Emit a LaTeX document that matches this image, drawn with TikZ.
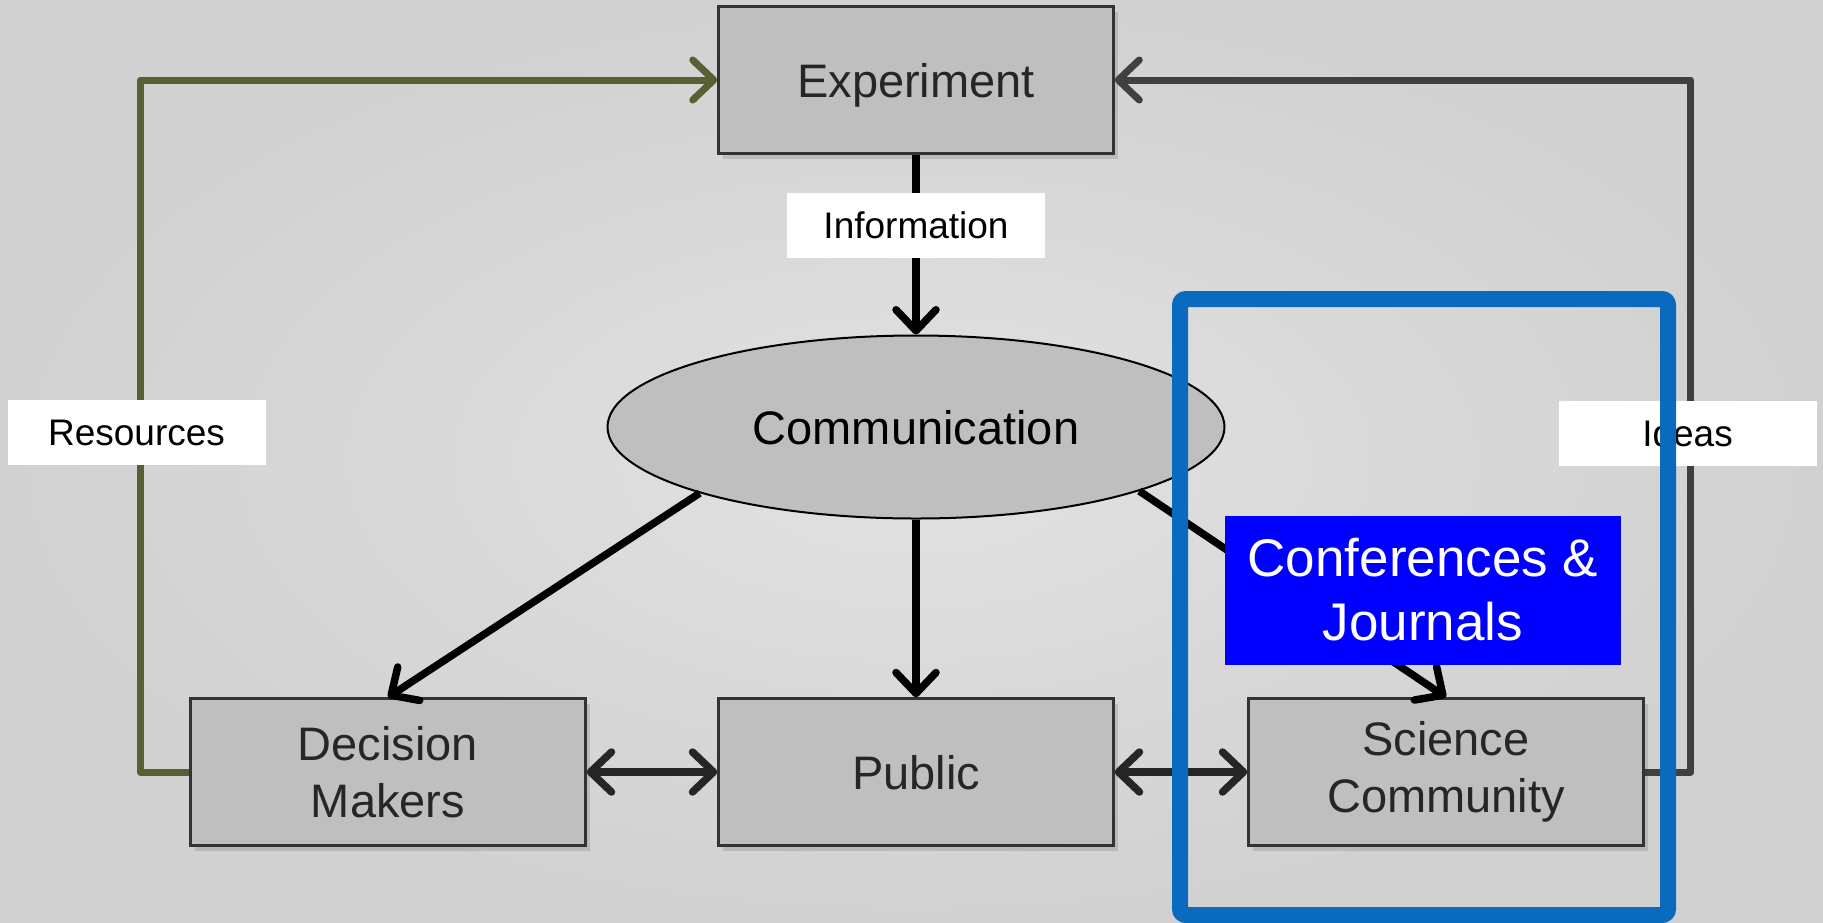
\documentclass[tikz,border=0pt]{standalone}
\usepackage{fontspec}
\setmainfont{Liberation Sans}
\usetikzlibrary{shapes.geometric,arrows.meta,shadows}
\definecolor{boxfill}{HTML}{BFBFBF}
\definecolor{boxline}{HTML}{333333}
\definecolor{olivel}{HTML}{566133}
\definecolor{ideagrey}{HTML}{404040}
\definecolor{frameblue}{HTML}{0A6BBE}
\definecolor{confblue}{HTML}{0000FF}
\definecolor{bgin}{HTML}{E2E2E2}
\definecolor{bgout}{HTML}{D1D1D1}
\tikzset{barb/.tip={Straight Barb[length=21pt,width=40pt,round]}}
\begin{document}
\begin{tikzpicture}[x=1pt,y=-1pt,
  box/.style={draw=boxline,line width=2.5pt,fill=boxfill,minimum width=395pt,minimum height=147pt,
    inner sep=0pt,align=center,text=black!85,font=\fontsize{47}{57}\selectfont,
    drop shadow={shadow xshift=4pt,shadow yshift=-5pt,opacity=0.3}},
  commell/.style={ellipse,draw=black,line width=2pt,fill=boxfill,minimum width=617pt,minimum height=183pt,
    inner sep=0pt,font=\fontsize{47}{57}\selectfont,text depth=0pt},
  lbl/.style={fill=white,minimum width=258pt,minimum height=65pt,inner sep=0pt,font=\fontsize{37}{40}\selectfont},
  conn/.style={line width=7.5pt,draw=black,arrows={-barb}},
  dconn/.style={line width=7.5pt,draw=black!85,arrows={barb-barb}},
  loopg/.style={line width=7pt,draw=olivel,arrows={-barb},line join=round},
  loopd/.style={line width=7pt,draw=ideagrey,arrows={-barb},line join=round},
  conf/.style={fill=confblue,text=white,minimum width=396pt,minimum height=149pt,inner sep=0pt,align=center,
    font=\fontsize{53}{64}\selectfont},
  frame/.style={draw=frameblue,line width=16pt,rounded corners=6pt}
]
\useasboundingbox (0,0) rectangle (1823,922);
\shade[inner color=bgin,outer color=bgout] (0,0) rectangle (1823,922);

\node[box,text depth=0pt] (exp) at (916,80) {Experiment};
\node[commell] (ell) at (916,427) {Communication};
\node[box] (dm) at (388,772) {Decision\\Makers};
\node[box,text depth=0pt] (pub) at (916,772) {Public};
\node[box] (sc) at (1446,772) {Science\\Community};

\draw[loopg] (dm.west) -- ++(-49,0) |- (exp.west);
\draw[loopd] (sc.east) -- ++(46,0) |- (exp.east);

\draw[conn] (exp.south) -- (ell.north);
\draw[conn] (ell.197) -- (dm.north);
\draw[conn] (ell.south) -- (pub.north);
\draw[conn] (ell.-16.5) -- (sc.north);
\draw[dconn] (dm.east) -- (pub.west);
\draw[dconn] (pub.east) -- (sc.west);

\node[lbl] (info) at (916,225.5) {Information};
\node[lbl] (res) at (136.5,432.5) {Resources};
\node[lbl] (ideas) at (1687.5,433.5) {Ideas};

\node[conf] (cj) at (1423,590) {Conferences \&\\Journals};

\node[frame,minimum width=488pt,minimum height=616pt,inner sep=0pt] (fr) at (1424,607) {};
\end{tikzpicture}
\end{document}
